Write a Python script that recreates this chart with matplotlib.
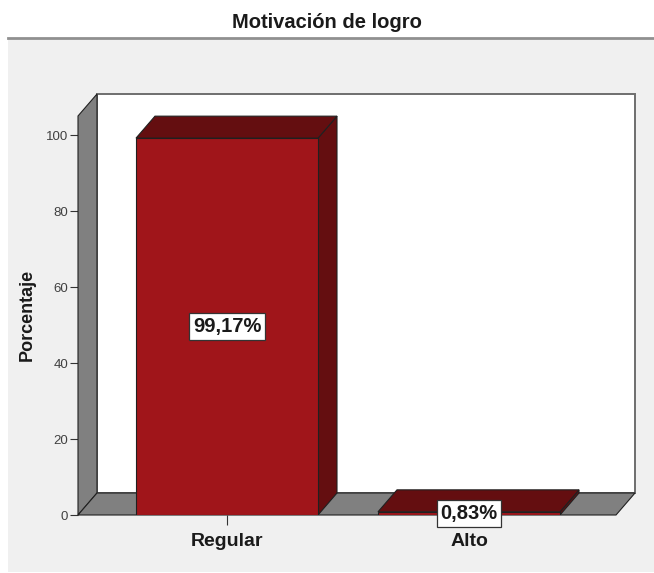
import numpy as np
import matplotlib.pyplot as plt
from matplotlib.patches import Polygon, Rectangle
from matplotlib.lines import Line2D

plt.rcParams['font.family'] = ['Liberation Sans', 'DejaVu Sans']

categories = ['Regular', 'Alto']
values = [99.17, 0.83]
labels = ['99,17%', '0,83%']
yticks = [0, 20, 40, 60, 80, 100]

front = '#a0151a'
dark = '#640e10'
wall = '#808080'

W, H = 654, 573
fig = plt.figure(figsize=(W / 100, H / 100), dpi=100)
fig.patch.set_facecolor('white')

# light gray panel under the title rule
fig.add_artist(Rectangle((8 / W, 1 - 572 / H), (W - 8) / W, (572 - 38) / H,
                         transform=fig.transFigure, facecolor='#f0f0f0',
                         edgecolor='none', zorder=0))
fig.add_artist(Line2D([8 / W, 1], [1 - 38 / H, 1 - 38 / H],
                      transform=fig.transFigure, color='#909090', lw=2))
fig.text(327 / W, 1 - 22 / H, 'Motivación de logro', ha='center', va='center',
         fontsize=14.5, fontweight='bold', color='#1a1a1a')

# axes: front plane from x=78 px, y=0 at 515 px
ax = fig.add_axes([78 / W, 1 - 515 / H, (636 - 78) / W, (515 - 93) / H])
ax.patch.set_alpha(0)
px_x = 242.0  # pixels per category
px_y = 3.8    # pixels per percent
x0 = (78 - 227) / px_x
x1 = (635 - 227) / px_x
ymax = (515 - 94) / px_y
ax.set_xlim(x0, (636 - 227) / px_x)
ax.set_ylim(0, (515 - 93) / px_y)
DX = 19 / px_x
DY = 22 / px_y
for s in ax.spines.values():
    s.set_visible(False)

ec = '#202020'
# back wall
ax.add_patch(Rectangle((x0 + DX, DY), x1 - x0 - DX, ymax - DY,
                       facecolor='white', edgecolor='#6e6e6e', lw=1.4,
                       zorder=1, clip_on=False))
# left wall
ax.add_patch(Polygon([(x0, 0), (x0 + DX, DY), (x0 + DX, ymax), (x0, ymax - DY)],
                     facecolor=wall, edgecolor=ec, lw=0.8, zorder=2, clip_on=False))
# floor
ax.add_patch(Polygon([(x0, 0), (x1 - DX, 0), (x1, DY), (x0 + DX, DY)],
                     facecolor=wall, edgecolor=ec, lw=0.8, zorder=2, clip_on=False))

bw = 182 / px_x
xs = np.arange(len(categories))
for i, v in enumerate(values):
    l, r = xs[i] - bw / 2, xs[i] + bw / 2
    ax.add_patch(Polygon([(r, 0), (r + DX, DY), (r + DX, v + DY), (r, v)],
                         facecolor=dark, edgecolor=ec, lw=0.8, zorder=3))
    ax.add_patch(Polygon([(l, v), (r, v), (r + DX, v + DY), (l + DX, v + DY)],
                         facecolor=dark, edgecolor=ec, lw=0.8, zorder=3))
    ax.add_patch(Rectangle((l, 0), bw, v, facecolor=front, edgecolor=ec,
                           lw=0.8, zorder=4))
    ax.text(xs[i], v / 2, labels[i], ha='center', va='center', fontsize=14.5,
            fontweight='bold', color='#1a1a1a', zorder=6,
            bbox=dict(boxstyle='square,pad=0.18', facecolor='white',
                      edgecolor='#333333', lw=0.9))

ax.set_yticks(yticks)
ax.set_yticklabels([str(t) for t in yticks], fontsize=9.5, color='#404040')
ax.set_xticks(xs)
ax.set_xticklabels(categories, fontsize=14, fontweight='bold', color='#1a1a1a')
ax.tick_params(axis='y', length=6, width=0.8, color='#333333', pad=1)
ax.tick_params(axis='x', length=7, width=0.8, color='#333333', pad=6)
ax.set_ylabel('Porcentaje', fontsize=13, fontweight='bold', color='#1a1a1a')
ax.yaxis.set_label_coords((36 - 78) / (636 - 78), (515 - 315) / (515 - 93))

fig.savefig('out.png', dpi=100)
